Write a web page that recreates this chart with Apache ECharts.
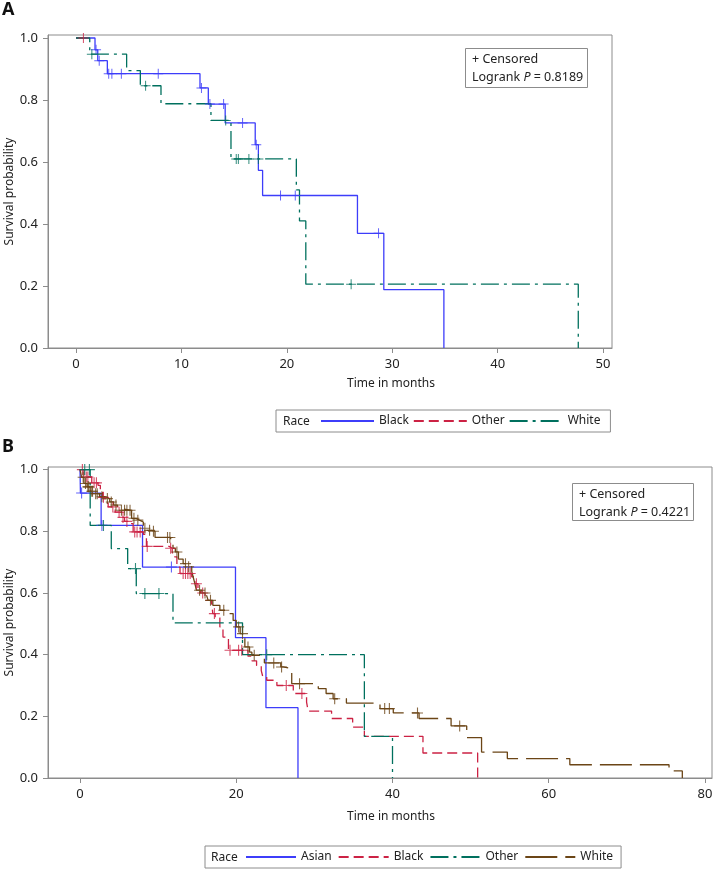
<!DOCTYPE html>
<html><head><meta charset="utf-8">
<script src="https://cdn.jsdelivr.net/npm/echarts@6/dist/echarts.min.js"></script>
<style>html,body{margin:0;padding:0;background:#fff}#c{width:720px;height:874px}</style>
</head><body><div id="c"></div>
<script>
// ---------- Panel A data (time in months, survival probability) ----------
const aXTicks = [0, 10, 20, 30, 40, 50];
const yTicks = [0, 0.2, 0.4, 0.6, 0.8, 1.0];
const aBlackT = [0, 1.8, 2.06, 2.97, 11.76, 12.55, 14.15, 17.0, 17.3, 17.7, 26.7, 29.2, 34.9];
const aBlackS = [1, 0.962, 0.927, 0.885, 0.839, 0.787, 0.726, 0.656, 0.573, 0.492, 0.37, 0.188, 0];
const aBlackCensT = [1.9, 2.2, 3.1, 3.4, 4.3, 7.8, 11.9, 12.7, 14.0, 15.8, 17.1, 19.4, 20.8, 28.7];
const aOtherT = [0, 0.7];
const aOtherS = [1, 1];
const aOtherCensT = [0.7];
const aWhiteT = [0, 1.3, 4.8, 6.1, 8.06, 12.8, 14.7, 20.9, 21.2, 21.8, 47.65];
const aWhiteS = [1, 0.948, 0.895, 0.846, 0.788, 0.734, 0.61, 0.51, 0.41, 0.206, 0];
const aWhiteCensT = [1.5, 6.6, 14.2, 15.2, 15.4, 16.4, 17.3, 26.1];

// ---------- Panel B data ----------
const bXTicks = [0, 20, 40, 60, 80];
const bAsianT = [0, 0.05, 2.7, 8.0, 19.9, 23.8, 27.9];
const bAsianS = [1, 0.924, 0.819, 0.684, 0.455, 0.228, 0];
const bAsianCensT = [0.2, 2.8, 11.7];
const bBlackT = [0, 0.5, 1.5, 2.3, 2.6, 2.9, 3.2, 3.6, 4.5, 5.4, 5.7, 6.3, 6.8, 8.1, 8.5, 11.4, 11.8, 12.1, 12.4, 12.8, 14.3, 14.7, 15.1, 15.4, 16.0, 16.8, 17.0, 17.3, 17.9, 18.3, 19.0, 21.5, 22.0, 22.6, 23.2, 23.4, 23.9, 25.2, 27.3, 29.0, 29.2, 32.2, 34.9, 36.4, 43.9, 50.9];
const bBlackS = [1, 0.976, 0.957, 0.949, 0.93, 0.91, 0.892, 0.879, 0.862, 0.845, 0.832, 0.825, 0.798, 0.79, 0.751, 0.745, 0.73, 0.717, 0.684, 0.663, 0.652, 0.63, 0.609, 0.6, 0.576, 0.57, 0.533, 0.52, 0.49, 0.457, 0.414, 0.395, 0.38, 0.365, 0.348, 0.328, 0.317, 0.3, 0.274, 0.246, 0.217, 0.193, 0.165, 0.135, 0.081, 0];
const bBlackCensT = [0.3, 0.8, 1.0, 1.8, 2.1, 3.0, 4.2, 5.0, 5.5, 6.0, 7.0, 7.3, 7.7, 8.6, 11.6, 13.2, 13.5, 13.8, 14.1, 14.9, 15.7, 17.2, 19.2, 20.3, 20.7, 26.4, 28.4];
const bOtherT = [0, 1.3, 4.0, 6.1, 7.2, 11.9, 20.8, 36.4, 40.0];
const bOtherS = [1, 0.819, 0.744, 0.679, 0.598, 0.503, 0.4, 0.135, 0];
const bOtherCensT = [0.6, 1.2, 3.0, 7.1, 8.3, 10.1, 23.9];
const bWhiteT = [0, 0.2, 0.5, 0.9, 1.3, 1.8, 2.5, 3.2, 3.8, 4.3, 4.8, 5.2, 6.6, 7.2, 7.6, 8.1, 8.6, 9.2, 9.6, 11.6, 11.9, 12.2, 12.6, 13.2, 13.8, 14.3, 14.5, 14.7, 14.9, 15.6, 16.2, 16.4, 17.0, 17.9, 19.0, 19.6, 20.0, 20.5, 21.1, 21.7, 22.0, 23.0, 23.6, 25.7, 26.0, 27.1, 30.5, 31.5, 32.4, 34.1, 38.4, 40.1, 43.4, 47.5, 49.5, 51.4, 54.7, 62.7, 75.4, 77.1];
const bWhiteS = [1, 0.975, 0.955, 0.944, 0.93, 0.922, 0.912, 0.906, 0.895, 0.885, 0.874, 0.868, 0.842, 0.836, 0.83, 0.81, 0.803, 0.8, 0.78, 0.76, 0.745, 0.733, 0.71, 0.695, 0.685, 0.67, 0.65, 0.63, 0.609, 0.6, 0.592, 0.576, 0.56, 0.544, 0.533, 0.511, 0.49, 0.468, 0.425, 0.408, 0.398, 0.387, 0.373, 0.36, 0.355, 0.306, 0.29, 0.274, 0.257, 0.243, 0.225, 0.211, 0.193, 0.169, 0.131, 0.084, 0.063, 0.043, 0.023, 0];
const bWhiteCensT = [0.4, 0.7, 1.0, 1.1, 1.5, 1.6, 2.0, 2.2, 2.8, 3.5, 4.0, 4.6, 5.3, 5.7, 6.0, 6.4, 6.9, 7.4, 8.3, 8.9, 9.4, 11.2, 11.5, 12.4, 13.5, 13.9, 15.3, 16.0, 16.7, 18.4, 20.3, 20.8, 21.5, 22.3, 24.8, 25.8, 28.1, 32.6, 39.0, 39.6, 43.2, 48.6];

// ---------- styling ----------
const FONT = 'Noto Sans';
const AX = '#8c8c8c', TXT = '#222';
const C_BLUE = '#3d3dfa', C_RED = '#cc2244', C_TEAL = '#00705e', C_BROWN = '#6b4516';
const D_RED = [10, 5], D_TEAL = [18, 5, 3, 5], D_BROWN = [32, 8];
const PLUS = 'path://M-0.1,-1L0.1,-1L0.1,-0.1L1,-0.1L1,0.1L0.1,0.1L0.1,1L-0.1,1L-0.1,0.1L-1,0.1L-1,-0.1L-0.1,-0.1Z';

function steps(T, S) { return T.map((t, i) => [t, S[i]]); }
function survAt(T, S, t) { let s = S[0]; for (let i = 0; i < T.length; i++) { if (T[i] <= t) s = S[i]; } return s; }
function cens(T, S, C) { return C.map(t => [t, survAt(T, S, t)]); }

function km(name, T, S, color, dash, gi) {
  return { type: 'line', name, data: steps(T, S), step: 'end', xAxisIndex: gi, yAxisIndex: gi,
    symbol: 'none', showSymbol: false, silent: true, animation: false,
    lineStyle: { color, width: 1.3, type: dash }, itemStyle: { color }, z: 2 };
}
function cm(name, T, S, C, color, gi, size) {
  return { type: 'scatter', name, data: cens(T, S, C), xAxisIndex: gi, yAxisIndex: gi,
    symbol: PLUS, symbolSize: size, silent: true, animation: false, itemStyle: { color }, z: 3 };
}
function xAx(gi, min, max, ticks, nameGap, padL) {
  return { type: 'value', gridIndex: gi, min, max, name: 'Time in months', nameLocation: 'middle', nameGap,
    nameMoveOverlap: false,
    nameTextStyle: { fontFamily: FONT, fontSize: 12, color: TXT, padding: [0, 0, 0, padL] },
    axisLine: { show: true, onZero: false, lineStyle: { color: AX, width: 1 } },
    axisTick: { show: true, length: 5, customValues: ticks, lineStyle: { color: AX } },
    axisLabel: { customValues: ticks, margin: 10, fontFamily: FONT, fontSize: 13, color: TXT },
    splitLine: { show: false } };
}
function yAx(gi, max) {
  return { type: 'value', gridIndex: gi, min: 0, max, name: 'Survival probability', nameLocation: 'middle',
    nameGap: 32, nameRotate: 90, nameMoveOverlap: false, nameTextStyle: { fontFamily: FONT, fontSize: 12, color: TXT },
    axisLine: { show: true, onZero: false, lineStyle: { color: AX, width: 1 } },
    axisTick: { show: true, length: 5, customValues: yTicks, lineStyle: { color: AX } },
    axisLabel: { customValues: yTicks, formatter: v => v.toFixed(1), margin: 10, fontFamily: FONT, fontSize: 13, color: TXT },
    splitLine: { show: false } };
}
const legTxt = { fontFamily: FONT, fontSize: 12, color: TXT };
const legItem = { color: 'transparent', borderColor: 'transparent', borderWidth: 0, opacity: 0 };
function noteBox(x, y, w, h, p) {
  return [
    { type: 'rect', shape: { x: x + 0.5, y: y + 0.5, width: w, height: h }, style: { fill: '#fff', stroke: AX, lineWidth: 1 }, z: 10 },
    { type: 'text', x: x + 7, y: y + 11.5, style: { text: '+ Censored', fontFamily: FONT, fontSize: 12.5, fill: TXT, verticalAlign: 'middle' }, z: 11 },
    { type: 'text', x: x + 7, y: y + 29, style: { text: '{n|Logrank }{i|P}{n| = ' + p + '}', fontFamily: FONT, fontSize: 12.5, fill: TXT, verticalAlign: 'middle',
      rich: { n: { fontFamily: FONT, fontSize: 12.5, fill: TXT }, i: { fontFamily: FONT, fontSize: 12.5, fontStyle: 'italic', fill: TXT } } }, z: 11 }
  ];
}

const chart = echarts.init(document.getElementById('c'), null, { renderer: 'canvas' });
chart.setOption({
  animation: false,
  backgroundColor: '#fff',
  title: [
    { text: 'A', left: 2, top: 1, padding: 0, textStyle: { fontFamily: FONT, fontSize: 18, fontWeight: 'bold', color: '#111' } },
    { text: 'B', left: 2, top: 438, padding: 0, textStyle: { fontFamily: FONT, fontSize: 18, fontWeight: 'bold', color: '#111' } }
  ],
  grid: [
    { left: 48, top: 35, width: 564, height: 313, show: true, borderColor: AX, borderWidth: 1, backgroundColor: 'transparent', containLabel: false, outerBoundsMode: 'none' },
    { left: 48, top: 467, width: 664, height: 311, show: true, borderColor: AX, borderWidth: 1, backgroundColor: 'transparent', containLabel: false, outerBoundsMode: 'none' }
  ],
  xAxis: [xAx(0, -2.66, 50.85, aXTicks, 30, 122), xAx(1, -4.1, 80.9, bXTicks, 33, 22)],
  yAxis: [yAx(0, 1.0097), yAx(1, 1.0084)],
  legend: [
    { data: ['Black', 'Other', 'White'], left: 276, top: 410, orient: 'horizontal', padding: [5, 10, 5, 44],
      itemWidth: 53, itemHeight: 10, itemGap: 4, borderColor: AX, borderWidth: 1, selectedMode: false, textStyle: legTxt, itemStyle: legItem },
    { data: ['B:Asian', 'B:Black', 'B:Other', 'B:White'], formatter: n => n.slice(2), left: 205, top: 846, orient: 'horizontal',
      padding: [5, 8, 5, 40], itemWidth: 50, itemHeight: 10, itemGap: 6, borderColor: AX, borderWidth: 1, selectedMode: false, textStyle: legTxt, itemStyle: legItem }
  ],
  graphic: [
    { type: 'text', x: 283, y: 422, style: { text: 'Race', fontFamily: FONT, fontSize: 12, fill: TXT, verticalAlign: 'middle' }, z: 20 },
    { type: 'text', x: 211, y: 858, style: { text: 'Race', fontFamily: FONT, fontSize: 12, fill: TXT, verticalAlign: 'middle' }, z: 20 },
    ...noteBox(465, 48, 122, 39, '0.8189'),
    ...noteBox(572, 483, 121, 37, '0.4221')
  ],
  series: [
    km('Black', aBlackT, aBlackS, C_BLUE, 'solid', 0),
    km('Other', aOtherT, aOtherS, C_RED, D_RED, 0),
    km('White', aWhiteT, aWhiteS, C_TEAL, D_TEAL, 0),
    cm('cA1', aBlackT, aBlackS, aBlackCensT, C_BLUE, 0, 10),
    cm('cA2', aOtherT, aOtherS, aOtherCensT, C_RED, 0, 10),
    cm('cA3', aWhiteT, aWhiteS, aWhiteCensT, C_TEAL, 0, 10),
    km('B:Asian', bAsianT, bAsianS, C_BLUE, 'solid', 1),
    km('B:Black', bBlackT, bBlackS, C_RED, D_RED, 1),
    km('B:Other', bOtherT, bOtherS, C_TEAL, D_TEAL, 1),
    km('B:White', bWhiteT, bWhiteS, C_BROWN, D_BROWN, 1),
    cm('cB1', bAsianT, bAsianS, bAsianCensT, C_BLUE, 1, 11),
    cm('cB2', bBlackT, bBlackS, bBlackCensT, C_RED, 1, 11),
    cm('cB3', bOtherT, bOtherS, bOtherCensT, C_TEAL, 1, 11),
    cm('cB4', bWhiteT, bWhiteS, bWhiteCensT, C_BROWN, 1, 11)
  ]
});
</script>
</body></html>
